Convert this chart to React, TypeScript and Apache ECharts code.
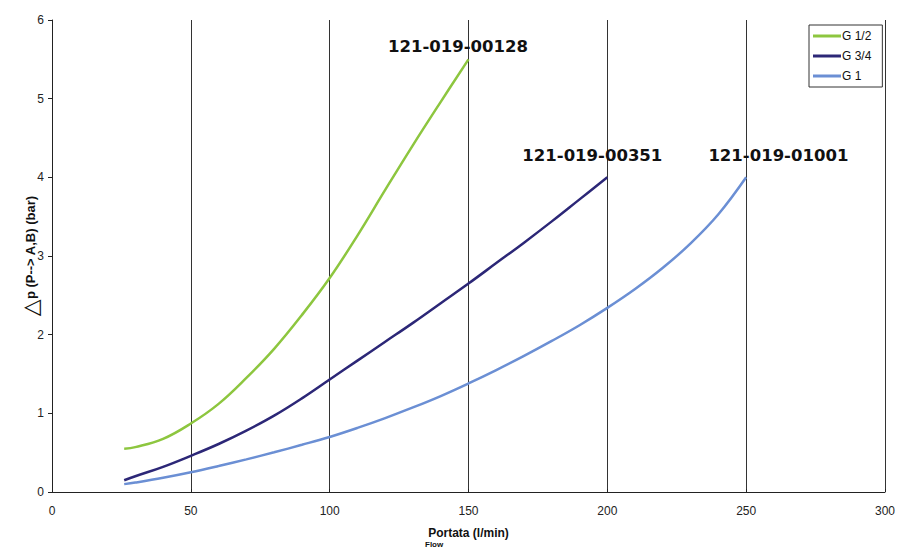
import React, { useEffect, useRef } from "react";
import * as echarts from "echarts";

const flowG12 = [26, 30, 40, 50, 60, 70, 80, 90, 100, 110, 120, 130, 140, 150];
const dpG12 = [0.55, 0.57, 0.675, 0.87, 1.12, 1.45, 1.82, 2.25, 2.72, 3.26, 3.84, 4.41, 4.96, 5.5];

const flowG34 = [26, 30, 40, 50, 60, 70, 80, 90, 100, 110, 120, 130, 140, 150, 160, 170, 180, 190, 200];
const dpG34 = [0.15, 0.2, 0.32, 0.46, 0.61, 0.78, 0.97, 1.19, 1.43, 1.67, 1.91, 2.15, 2.4, 2.65, 2.91, 3.17, 3.44, 3.72, 4.0];

const flowG1 = [26, 30, 40, 50, 60, 70, 80, 90, 100, 110, 120, 130, 140, 150, 160, 170, 180, 190, 200, 210, 220, 230, 240, 250];
const dpG1 = [0.1, 0.12, 0.18, 0.25, 0.33, 0.415, 0.505, 0.6, 0.7, 0.815, 0.94, 1.075, 1.22, 1.38, 1.55, 1.73, 1.92, 2.12, 2.34, 2.58, 2.85, 3.16, 3.53, 4.0];

const seriesNames = ["G 1/2", "G 3/4", "G 1"];
const seriesColors = ["#8DC63F", "#2C2777", "#6B8FD4"];
const codes = ["121-019-00128", "121-019-00351", "121-019-01001"];
const codePos: [number, number][] = [
  [146.2, 5.66],
  [194.6, 4.28],
  [261.6, 4.28],
];

const xTicks = { min: 0, max: 300, interval: 50 };
const yTicks = { min: 0, max: 6, interval: 1 };

function pairs(xs: number[], ys: number[]) {
  return xs.map((x, i) => [x, ys[i]]);
}

export default function App() {
  const ref = useRef<HTMLDivElement>(null);
  useEffect(() => {
    if (!ref.current) return;
    const chart = echarts.init(ref.current, undefined, { renderer: "svg" });
    const datasets = [pairs(flowG12, dpG12), pairs(flowG34, dpG34), pairs(flowG1, dpG1)];
    chart.setOption({
      animation: false,
      backgroundColor: "#ffffff",
      grid: { left: 52, right: 10, top: 20, bottom: 56 },
      legend: {
        orient: "vertical",
        left: 809,
        top: 25,
        data: seriesNames,
        icon: "rect",
        itemWidth: 28,
        itemHeight: 3,
        itemGap: 6,
        padding: [4, 11, 4, 4],
        borderColor: "#333",
        borderWidth: 1,
        textStyle: {
          fontFamily: "Liberation Sans",
          fontSize: 12,
          lineHeight: 14,
          color: "#111",
          padding: [0, 0, 0, -4],
        },
      },
      xAxis: {
        type: "value",
        ...xTicks,
        name: "Portata (l/min)",
        nameLocation: "middle",
        nameGap: 35,
        nameMoveOverlap: false,
        nameTextStyle: { fontFamily: "Liberation Sans", fontSize: 12, fontWeight: "bold", color: "#111" },
        axisLine: { show: true, lineStyle: { color: "#222", width: 1 } },
        axisTick: { show: true, inside: true, length: 3, lineStyle: { color: "#222" } },
        axisLabel: { fontFamily: "Liberation Sans", fontSize: 12, color: "#222", margin: 13 },
        splitLine: { show: true, lineStyle: { color: "#333", width: 1 } },
      },
      yAxis: {
        type: "value",
        ...yTicks,
        name: "{t|△}{b|p (P--> A,B) (bar)}",
        nameLocation: "middle",
        nameRotate: 90,
        nameGap: 11,
        nameMoveOverlap: false,
        nameTextStyle: {
          rich: {
            t: { fontFamily: "DejaVu Sans", fontSize: 22, color: "#111" },
            b: { fontFamily: "Liberation Sans", fontSize: 13, fontWeight: "bold", color: "#111" },
          },
        },
        axisLine: { show: true, lineStyle: { color: "#222", width: 1 } },
        axisTick: { show: true, inside: false, length: 4, lineStyle: { color: "#222" } },
        axisLabel: { fontFamily: "Liberation Sans", fontSize: 12, color: "#222", margin: 8 },
        splitLine: { show: false },
      },
      graphic: [
        {
          type: "text",
          left: 425,
          top: 540,
          style: { text: "Flow", fontFamily: "Liberation Sans", fontSize: 8, fontWeight: "bold", fill: "#111" },
        },
      ],
      series: seriesNames.map((name, i) => ({
        name,
        type: "line",
        data: datasets[i],
        smooth: 0.4,
        showSymbol: false,
        symbol: "none",
        lineStyle: { color: seriesColors[i], width: 2.5 },
        itemStyle: { color: seriesColors[i] },
        z: 3 - i,
        markPoint: {
          silent: true,
          symbol: "circle",
          symbolSize: 0,
          data: [
            {
              coord: codePos[i],
              label: {
                show: true,
                position: "inside",
                formatter: codes[i],
                fontFamily: "DejaVu Sans",
                fontWeight: "bold",
                fontSize: 16.5,
                color: "#111",
              },
            },
          ],
        },
      })),
    });
    return () => chart.dispose();
  }, []);
  return <div ref={ref} style={{ width: 898, height: 548, position: "absolute", left: 0, top: 0 }} />;
}
